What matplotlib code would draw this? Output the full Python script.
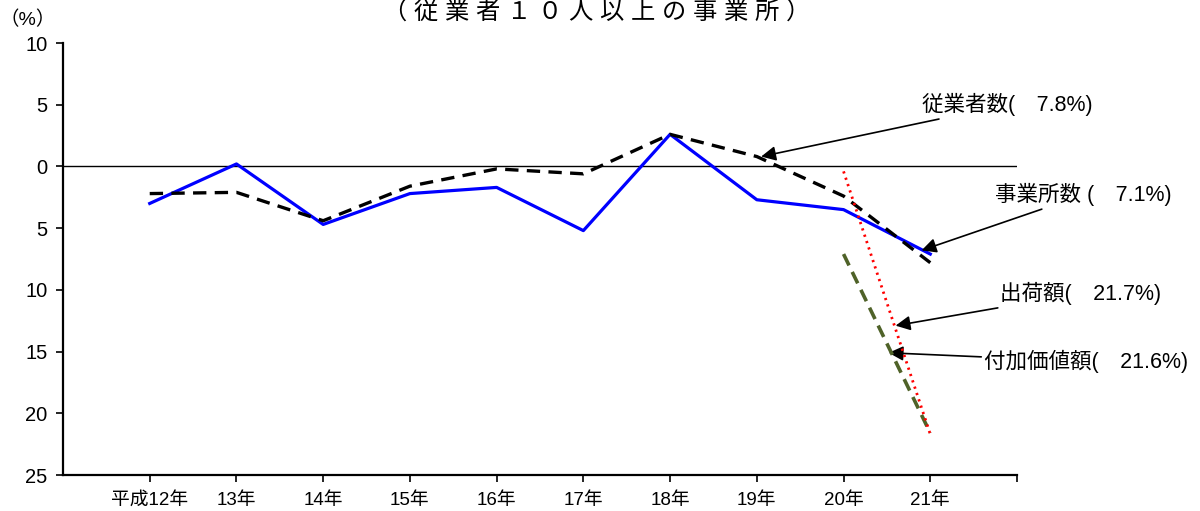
import numpy as np
import matplotlib
matplotlib.use('Agg')
import matplotlib.pyplot as plt

# フォント設定（数字はArial相当、漢字はNoto Sans CJK JP）
plt.rcParams['font.family'] = ['Liberation Sans', 'Noto Sans CJK JP', 'DejaVu Sans']
plt.rcParams['axes.unicode_minus'] = False

# データ（前年比 %）
years = ['平成12年', '13年', '14年', '15年', '16年', '17年', '18年', '19年', '20年', '21年']
jigyosho = [-3.0, 0.2, -4.7, -2.2, -1.7, -5.2, 2.6, -2.7, -3.5, -7.1]      # 事業所数
jugyosha = [-2.2, -2.1, -4.4, -1.6, -0.2, -0.6, 2.6, 0.8, -2.4, -7.8]      # 従業者数
shukka = [np.nan] * 8 + [-0.4, -21.7]                                       # 出荷額
fuka = [np.nan] * 8 + [-7.1, -21.6]                                         # 付加価値額

y_ticks = [10, 5, 0, -5, -10, -15, -20, -25]
y_labels = ['10', '5', '0', '5', '10', '15', '20', '25']

x = np.arange(len(years))

fig = plt.figure(figsize=(12, 5.11), dpi=100)
ax = fig.add_axes([63 / 1200, 36 / 511, (1017 - 63) / 1200, (475 - 43) / 511])

# 0のライン
ax.axhline(0, color='black', lw=1.0, zorder=1)

ax.plot(x, jigyosho, color='#0000FF', lw=2.3, zorder=3)
ax.plot(x, jugyosha, color='black', lw=2.4, linestyle=(0, (4, 2.5)), zorder=4)
ax.plot(x, shukka, color='#FF0000', lw=2.0, linestyle=(0, (0.8, 1.6)), zorder=5)
ax.plot(x, fuka, color='#4F6228', lw=2.6, linestyle=(0, (3.5, 2)), zorder=4)

ax.set_xlim(-1, 10)
ax.set_ylim(-25, 10)
ax.set_xticks(list(x) + [10])
ax.set_xticklabels(years + [''], fontsize=13.5)
ax.set_yticks(y_ticks)
ax.set_yticklabels(y_labels, fontsize=14.5)
ax.tick_params(axis='both', direction='out', length=5, width=1.2, colors='black')
ax.tick_params(axis='x', pad=7)
ax.tick_params(axis='y', pad=6)

for s in ['top', 'right']:
    ax.spines[s].set_visible(False)
for s in ['left', 'bottom']:
    ax.spines[s].set_linewidth(1.6)

# タイトル・単位
fig.text(0.497, 0.975, '（ 従 業 者 １ ０ 人 以 上 の 事 業 所 ）', ha='center', va='center', fontsize=17.5)
fig.text(28 / 1200, 1 - 20 / 511, '（%）', ha='center', va='center', fontsize=14)

# 注記（矢印付き）
arrow = dict(arrowstyle='-|>', color='black', lw=1.2, mutation_scale=22, shrinkA=0, shrinkB=0)
ax.annotate('従業者数(　7.8%)', xy=(7.05, 0.8), xytext=(8.9, 5.0),
            fontsize=15.5, va='center', ha='left', arrowprops=arrow)
ax.annotate('事業所数 (　7.1%)', xy=(8.9, -6.8), xytext=(9.75, -2.3),
            fontsize=15.5, va='center', ha='left', arrowprops=arrow)
ax.annotate('出荷額(　21.7%)', xy=(8.6, -12.9), xytext=(9.8, -10.3),
            fontsize=15.5, va='center', ha='left', arrowprops=arrow)
ax.annotate('付加価値額(　21.6%)', xy=(8.52, -15.1), xytext=(9.62, -15.8),
            fontsize=15.5, va='center', ha='left', arrowprops=arrow)

fig.savefig('out.png', dpi=100)
